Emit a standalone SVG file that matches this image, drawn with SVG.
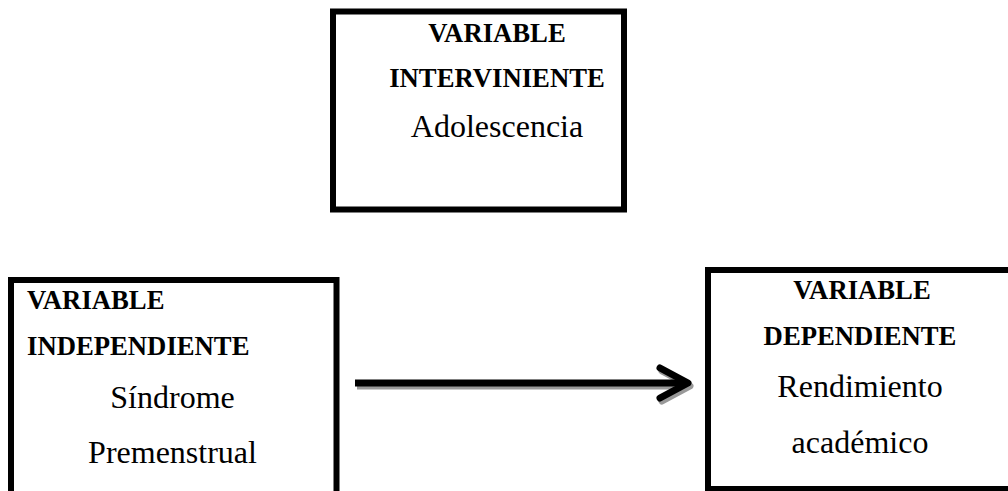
<svg xmlns="http://www.w3.org/2000/svg" width="1008" height="491" viewBox="0 0 1008 491">
<style>
.box{fill:#fff;stroke:#000;stroke-width:6}
.b{font-family:"Liberation Serif",serif;font-weight:bold;font-size:26.7px;fill:#000}
.r{font-family:"Liberation Serif",serif;font-size:32px;fill:#000}
.c{text-anchor:middle}
</style>
<rect width="1008" height="491" fill="#fff"/>
<g id="interviniente">
<rect class="box" x="333" y="11.5" width="291" height="198"/>
<text class="b c" x="497" y="42">VARIABLE</text>
<text class="b c" x="497" y="87">INTERVINIENTE</text>
<text class="r c" x="497" y="137">Adolescencia</text>
</g>
<g id="independiente">
<rect class="box" x="11" y="280" width="325.5" height="300"/>
<text class="b" x="27" y="309">VARIABLE</text>
<text class="b" x="27" y="355">INDEPENDIENTE</text>
<text class="r c" x="172.5" y="408">Síndrome</text>
<text class="r c" x="172.5" y="463">Premenstrual</text>
</g>
<g id="dependiente">
<rect class="box" x="708" y="270" width="320" height="219"/>
<text class="b c" x="862" y="299">VARIABLE</text>
<text class="b c" x="860" y="345">DEPENDIENTE</text>
<text class="r c" x="860" y="397">Rendimiento</text>
<text class="r c" x="860" y="453">académico</text>
</g>
<g id="connectors">
<g stroke="#999" stroke-width="7" fill="none" stroke-linecap="round" stroke-linejoin="round" transform="translate(2,3)">
<line x1="355" y1="383" x2="686" y2="383" stroke-linecap="butt"/>
<polyline points="660,368 688,383 660,398"/>
</g>
<g stroke="#000" stroke-width="7" fill="none" stroke-linecap="round" stroke-linejoin="round">
<line x1="355" y1="383" x2="686" y2="383" stroke-linecap="butt"/>
<polyline points="660,368 688,383 660,398"/>
</g>
</g>
</svg>
